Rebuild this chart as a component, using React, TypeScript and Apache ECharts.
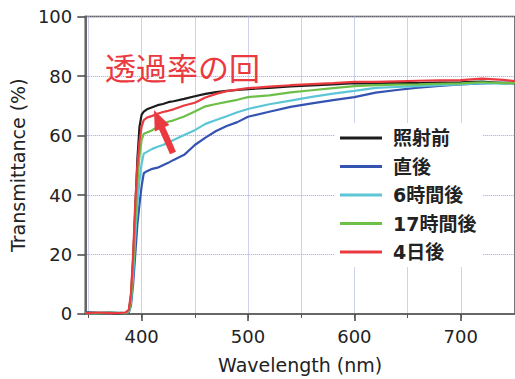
import React, { useEffect, useRef } from "react";
import * as echarts from "echarts";

const WAVELENGTHS = [347, 360, 370, 380, 385, 388, 390, 392, 394, 396, 398, 400, 402, 405, 410, 415, 420, 425, 430, 440, 450, 460, 470, 480, 490, 500, 520, 540, 560, 580, 600, 620, 640, 660, 680, 700, 720, 740, 751];

const SERIES_NAMES = ["照射前", "直後", "6時間後", "17時間後", "4日後"];

const BEFORE = [0.5, 0.3, 0.4, 0.3, 0.4, 1, 6, 18, 35, 52, 63, 67, 68, 68.8, 69.5, 70.2, 70.6, 71.2, 71.5, 72.3, 73.2, 74, 74.6, 75, 75.3, 75.6, 76, 76.5, 76.8, 77.2, 77.6, 77.5, 77.7, 77.6, 77.8, 77.9, 78.1, 77.6, 77.5];
const JUST_AFTER = [0.6, 0.4, 0.5, 0.3, 0.4, 0.5, 3, 10, 20, 30, 37, 43, 47.3, 48, 48.8, 49.2, 50, 50.8, 51.8, 53.5, 56.8, 59.3, 61.5, 63.2, 64.5, 66.3, 68, 69.6, 70.8, 71.9, 72.9, 74.4, 75.3, 76.1, 76.7, 77.2, 77.5, 77.8, 77.8];
const AFTER_6H = [0.3, 0.4, 0.3, 0.5, 0.3, 0.8, 4, 13, 26, 37, 45, 50.5, 53.9, 54.5, 55.5, 56.2, 56.8, 57.6, 58.5, 60.2, 61.8, 63.9, 65.2, 66.5, 67.8, 68.9, 70.5, 71.7, 73, 74.1, 75, 76, 76.3, 76.6, 76.9, 77.2, 77.6, 77.4, 77.6];
const AFTER_17H = [0.4, 0.3, 0.5, 0.3, 0.4, 1, 5, 16, 31, 44, 53, 58.5, 60.6, 61, 61.8, 63, 63.8, 64.6, 65.1, 66.4, 68.1, 69.8, 70.6, 71.3, 72, 72.9, 73.5, 74.5, 75.2, 75.9, 76.6, 76.9, 77.1, 77.2, 77.4, 77.5, 77.9, 77.6, 77.7];
const AFTER_4D = [0.3, 0.5, 0.3, 0.4, 0.5, 1.5, 7, 20, 37, 50, 58, 63, 65.2, 66, 66.6, 67.3, 67.9, 68.3, 68.8, 70.1, 71, 72.8, 74, 74.9, 75.4, 75.9, 76.4, 76.9, 77.3, 77.6, 78, 78, 78.2, 78.4, 78.5, 78.6, 79.1, 78.7, 78.3];

const X_MAJOR_TICKS = [400, 500, 600, 700];
const X_MINOR_TICKS = [350, 400, 450, 500, 550, 600, 650, 700];

const COLORS = ["#1c1c1c", "#3553b0", "#5cc6d6", "#6dbf48", "#ea3a40"];
const ANNOTATION = "透過率の回";

const FONT = "'DejaVu Sans', 'Noto Sans CJK JP', sans-serif";

export default function App() {
  const ref = useRef<HTMLDivElement>(null);

  useEffect(() => {
    if (!ref.current) return;
    const chart = echarts.init(ref.current, undefined, { renderer: "svg" });
    const allValues = [BEFORE, JUST_AFTER, AFTER_6H, AFTER_17H, AFTER_4D];

    const series = allValues.map((vals, i) => ({
      name: SERIES_NAMES[i],
      type: "line",
      xAxisIndex: 0,
      data: WAVELENGTHS.map((w, j) => [w, vals[j]]),
      symbol: "none",
      lineStyle: { color: COLORS[i], width: 2.2 },
      itemStyle: { color: COLORS[i] },
      z: 3 + i,
    }));

    // arrow geometry (annotation)
    const tail = [173, 153];
    const tip = [154, 110];
    const dx = tip[0] - tail[0];
    const dy = tip[1] - tail[1];
    const len = Math.hypot(dx, dy);
    const ux = dx / len, uy = dy / len;
    const px = -uy, py = ux;
    const headLen = 20, headHalf = 8;
    const base = [tip[0] - ux * headLen, tip[1] - uy * headLen];

    chart.setOption({
      animation: false,
      grid: {
        left: 84,
        right: -2,
        top: 16.5,
        bottom: 62,
        show: true,
        borderColor: "#4a4a4a",
        borderWidth: 1.5,
        containLabel: false,
      },
      legend: {
        data: SERIES_NAMES.map((n, i) => ({ name: n, icon: "rect", itemStyle: { color: COLORS[i] } })),
        orient: "vertical",
        left: 335,
        top: 123,
        padding: [5, 6, 5, 5],
        backgroundColor: "#ffffff",
        itemWidth: 42,
        itemHeight: 3,
        itemGap: 8.5,
        textStyle: {
          fontFamily: FONT,
          fontSize: 19,
          fontWeight: "bold",
          color: "#222",
          lineHeight: 20,
          padding: [0, 0, 0, 6],
        },
      },
      xAxis: [
        {
          type: "value",
          min: 347,
          max: 751,
          position: "bottom",
          name: "Wavelength (nm)",
          nameLocation: "middle",
          nameGap: 41,
          nameTextStyle: { fontFamily: FONT, fontSize: 19, color: "#222" },
          axisLine: { show: true, lineStyle: { color: "#666", width: 1.5 } },
          axisTick: { show: true, length: 7, customValues: X_MAJOR_TICKS, lineStyle: { color: "#444", width: 1.5 } },
          axisLabel: { show: true, customValues: X_MAJOR_TICKS, fontFamily: FONT, fontSize: 18, color: "#222", margin: 14 },
          splitLine: { show: false },
        },
        {
          type: "value",
          min: 347,
          max: 751,
          position: "bottom",
          splitNumber: 8,
          axisLine: { show: true, lineStyle: { color: "#666", width: 1.5 } },
          axisTick: { show: true, length: 4, customValues: X_MINOR_TICKS, lineStyle: { color: "#555", width: 1 } },
          axisLabel: { show: false },
          splitLine: { show: true, lineStyle: { color: "#9ea4dc", type: "dotted", width: 1 } },
        },
      ],
      yAxis: {
        type: "value",
        min: 0,
        max: 100,
        interval: 20,
        name: "Transmittance (%)",
        nameLocation: "middle",
        nameGap: 53,
        nameTextStyle: { fontFamily: FONT, fontSize: 19, color: "#222" },
        axisLine: { show: true, lineStyle: { color: "#666", width: 2 } },
        axisTick: { show: true, length: 8, lineStyle: { color: "#444", width: 1.5 } },
        axisLabel: { fontFamily: FONT, fontSize: 18, color: "#222", margin: 13 },
        splitLine: { show: true, lineStyle: { color: "#9ea4dc", type: "dotted", width: 1 } },
      },
      series,
      graphic: [
        {
          type: "text",
          left: 105,
          top: 51,
          z: 10,
          style: {
            text: ANNOTATION,
            fill: "#ea3a40",
            fontFamily: "'Noto Sans CJK JP', sans-serif",
            fontSize: 31,
          },
        },
        {
          type: "line",
          z: 10,
          shape: { x1: tail[0], y1: tail[1], x2: base[0] + ux * 4, y2: base[1] + uy * 4 },
          style: { stroke: "#ea3a40", lineWidth: 6.5 },
        },
        {
          type: "polygon",
          z: 11,
          shape: {
            points: [
              [tip[0], tip[1]],
              [base[0] + px * headHalf, base[1] + py * headHalf],
              [base[0] - px * headHalf, base[1] - py * headHalf],
            ],
          },
          style: { fill: "#ea3a40" },
        },
      ],
    });

    return () => chart.dispose();
  }, []);

  return (
    <div
      ref={ref}
      style={{ position: "fixed", left: 0, top: 0, width: 515, height: 379, background: "#fff" }}
    />
  );
}
